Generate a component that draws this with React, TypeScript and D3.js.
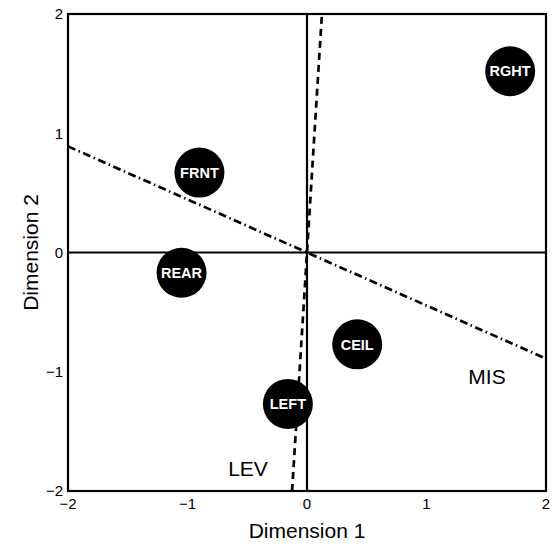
import React from "react";
import * as d3 from "d3";

const names = ["RGHT", "FRNT", "REAR", "CEIL", "LEFT"];
const dim1 = [1.70, -0.90, -1.05, 0.42, -0.16];
const dim2 = [1.52, 0.67, -0.17, -0.77, -1.27];
const xTicks = [-2, -1, 0, 1, 2];
const yTicks = [-2, -1, 0, 1, 2];
// direction vectors of fitted property lines (through origin)
const levDir = [0.0625, 1];
const misDir = [1, -0.445];

export default function App() {
  const W = 552, H = 546;
  const L = 68, R = 546, T = 14, B = 491;
  const x = d3.scaleLinear().domain([-2, 2]).range([L, R]);
  const y = d3.scaleLinear().domain([-2, 2]).range([B, T]);
  const font = "Liberation Sans, Arial, Helvetica, sans-serif";
  const line = d3.line<number[]>().x(d => x(d[0])).y(d => y(d[1]));
  const levPts = [[-2 * levDir[0], -2], [2 * levDir[0], 2]];
  const misPts = [[-2, -2 * misDir[1]], [2, 2 * misDir[1]]];
  return (
    <svg width={W} height={H} style={{ position: "absolute", left: 0, top: 0 }}>
      <rect width={W} height={H} fill="white" />
      <line x1={x(0)} x2={x(0)} y1={T} y2={B} stroke="black" strokeWidth={2.2} />
      <line x1={L} x2={R} y1={y(0)} y2={y(0)} stroke="black" strokeWidth={2.2} />
      <path d={line(levPts as any) || ""} stroke="black" strokeWidth={2.7} fill="none" strokeDasharray="7,5" />
      <path d={line(misPts as any) || ""} stroke="black" strokeWidth={2.7} fill="none" strokeDasharray="8,3.5,1.5,3.5" />
      {names.map((n, i) => (
        <g key={n}>
          <circle cx={x(dim1[i])} cy={y(dim2[i])} r={25} fill="black" />
          <text x={x(dim1[i])} y={y(dim2[i])} dy="0.36em" textAnchor="middle" fill="white" fontWeight="bold" fontSize={14.5} fontFamily={font}>{n}</text>
        </g>
      ))}
      <rect x={L} y={T} width={R - L} height={B - T} fill="none" stroke="black" strokeWidth={2.2} />
      <text x={248} y={476} textAnchor="middle" fontSize={21} fontFamily={font}>LEV</text>
      <text x={487} y={384} textAnchor="middle" fontSize={21} fontFamily={font}>MIS</text>
      {xTicks.map(t => (
        <text key={"x" + t} x={x(t)} y={B + 18} textAnchor="middle" fontSize={15} fontFamily={font}>{t < 0 ? "\u2212" + Math.abs(t) : t}</text>
      ))}
      {yTicks.map(t => (
        <text key={"y" + t} x={L - 5} y={y(t)} dy="0.36em" textAnchor="end" fontSize={15} fontFamily={font}>{t < 0 ? "\u2212" + Math.abs(t) : t}</text>
      ))}
      <text x={(L + R) / 2} y={538} textAnchor="middle" fontSize={21} fontFamily={font}>Dimension 1</text>
      <text transform={`translate(38,${(T + B) / 2}) rotate(-90)`} textAnchor="middle" fontSize={21} fontFamily={font}>Dimension 2</text>
    </svg>
  );
}
